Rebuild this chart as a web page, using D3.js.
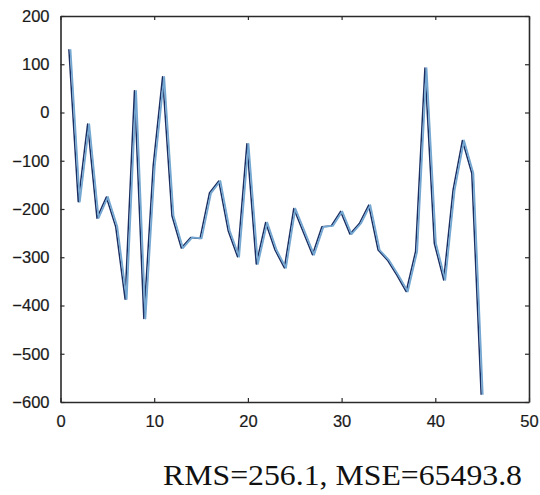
<!DOCTYPE html>
<html><head><meta charset="utf-8">
<script src="https://cdn.jsdelivr.net/npm/d3@7"></script>
<style>body{margin:0;background:#fff}svg{display:block}</style>
</head><body>
<svg id="c" width="540" height="495"></svg>
<script>
const xValues = d3.range(1, 46);
const yValues = [131, -185, -24, -219, -175, -237, -387, 45, -427, -110,
  74, -214, -281, -259, -261, -167, -142, -245, -299, -65,
  -314, -228, -285, -322, -199, -247, -295, -237, -235, -205,
  -252, -230, -192, -285, -306, -337, -371, -288, 92, -271,
  -347, -161, -58, -126, -585];
const xTicks = [0, 10, 20, 30, 40, 50];
const yTicks = [200, 100, 0, -100, -200, -300, -400, -500, -600];
const caption = "RMS=256.1, MSE=65493.8";

const svg = d3.select("#c");
const L = 60.5, R = 529, T = 16, B = 402;
const x = d3.scaleLinear().domain([0, 50]).range([L, R]);
const y = d3.scaleLinear().domain([-600, 200]).range([B, T]);
const data = xValues.map((v, i) => [v, yValues[i]]);

const line = d3.line().x(d => x(d[0])).y(d => y(d[1]));
svg.append("path").datum(data).attr("d", line)
  .attr("transform", "translate(-1,0)")
  .attr("fill", "none").attr("stroke", "#1c2f63").attr("stroke-width", 1.5)
  .attr("stroke-linejoin", "round");
svg.append("path").datum(data).attr("d", line)
  .attr("transform", "translate(0.6,0)")
  .attr("fill", "none").attr("stroke", "#74a8d2").attr("stroke-width", 1.8)
  .attr("stroke-linejoin", "round");

const font = "'Liberation Sans', Arial, sans-serif";
const ax = svg.append("g");
ax.append("g").attr("transform", `translate(0,${B})`)
  .call(d3.axisBottom(x).tickValues(xTicks).tickSize(-4).tickPadding(13).tickSizeOuter(0));
ax.append("g").attr("transform", `translate(0,${T})`)
  .call(d3.axisTop(x).tickValues(xTicks).tickSize(-4).tickFormat("").tickSizeOuter(0));
ax.append("g").attr("transform", `translate(${L},0)`)
  .call(d3.axisLeft(y).tickValues(yTicks).tickSize(-4).tickPadding(11).tickSizeOuter(0));
ax.append("g").attr("transform", `translate(${R},0)`)
  .call(d3.axisRight(y).tickValues(yTicks).tickSize(-4).tickFormat("").tickSizeOuter(0));
ax.selectAll(".domain").attr("stroke", "#2a2a2a").attr("stroke-width", 1.6);
ax.selectAll(".tick line").attr("stroke", "#2a2a2a").attr("stroke-width", 1.2);
ax.selectAll(".tick text").attr("font-family", font).attr("font-size", 16.5)
  .attr("fill", "#1a1a1a").attr("stroke", "#1a1a1a").attr("stroke-width", 0.2);

svg.append("text").attr("x", 163).attr("y", 485)
  .attr("font-family", "'Liberation Serif', 'Times New Roman', serif")
  .attr("font-size", 28.5).attr("fill", "#111")
  .attr("textLength", 359).attr("lengthAdjust", "spacingAndGlyphs")
  .text(caption);
</script>
</body></html>
